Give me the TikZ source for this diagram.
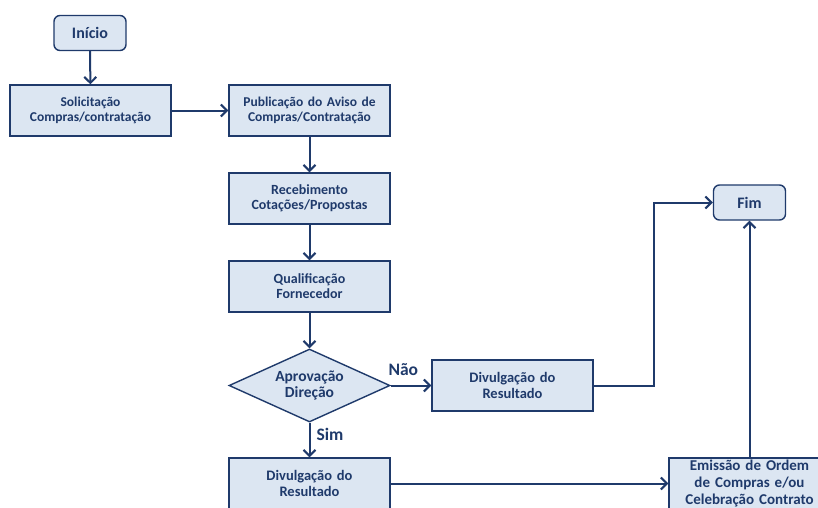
\documentclass[tikz,border=0pt]{standalone}
\usepackage{fontspec}
\setmainfont{Carlito}
\usetikzlibrary{shapes.geometric,arrows.meta}
\definecolor{navy}{HTML}{1F3A6B}
\definecolor{boxfill}{HTML}{DCE6F2}
\newcommand{\fsz}[2]{\bfseries\fontsize{#1}{#2}\selectfont}
\begin{document}
\begin{tikzpicture}[x=1pt,y=-1pt,
 box/.style={draw=navy, fill=boxfill, line width=1.4pt, minimum width=161pt, minimum height=51pt, text width=158pt, align=center, font=\fsz{14}{15}, text=navy, inner sep=0pt},
 term/.style={box, rounded corners=6pt, minimum width=72pt, minimum height=35pt, text width=66pt, font=\fsz{16}{16}},
 dec/.style={diamond, draw=navy, fill=boxfill, line width=1.4pt, minimum width=161pt, minimum height=73pt, aspect=2.2, inner sep=0pt, align=center, font=\fsz{15.5}{16}, text=navy},
 conn/.style={draw=navy, line width=2pt, -{Straight Barb[length=6pt,width=12pt,line width=2pt]}},
 lbl/.style={font=\fsz{17.5}{18}, text=navy, inner sep=2pt}
]
\clip (0,0) rectangle (818,507);
\fill[white] (0,0) rectangle (818,507);
\node[term] (inicio) at (90,33) {Início};
\node[box, font=\fsz{13.5}{15}] (solic) at (90.5,110.5) {Solicitação\\Compras/contratação};
\node[box, font=\fsz{13.5}{15}] (pub) at (309.5,110.5) {Publicação do Aviso de\\Compras/Contratação};
\node[box] (receb) at (309.5,198.5) {Recebimento\\Cotações/Propostas};
\node[box] (qual) at (309.5,286.5) {Qualificação\\Fornecedor};
\node[dec] (dec) at (309.5,385.5) {Aprovação\\Direção};
\node[box, font=\fsz{14.5}{16}] (divR) at (512.5,385.5) {Divulgação do\\Resultado};
\node[box, font=\fsz{14.5}{16}] (divB) at (309.5,483.5) {Divulgação do\\Resultado};
\node[term] (fim) at (749.5,202.5) {Fim};
\node[box, font=\fsz{15}{17}] (emis) at (749.5,483.5) {Emissão de Ordem\\de Compras e/ou\\Celebração Contrato};
\draw[conn] (inicio) -- (solic);
\draw[conn] (solic) -- (pub);
\draw[conn] (pub) -- (receb);
\draw[conn] (receb) -- (qual);
\draw[conn] (qual) -- (dec);
\draw[conn] (dec) -- node[lbl, above, pos=0.31, yshift=7pt] {Não} (divR);
\draw[conn] (dec) -- node[lbl, right, pos=0.33, xshift=4pt] {Sim} (divB);
\draw[conn] (divR.east) -- ++(60,0) |- (fim);
\draw[conn] (divB) -- (emis);
\draw[conn] (emis) -- (fim);
\end{tikzpicture}
\end{document}
